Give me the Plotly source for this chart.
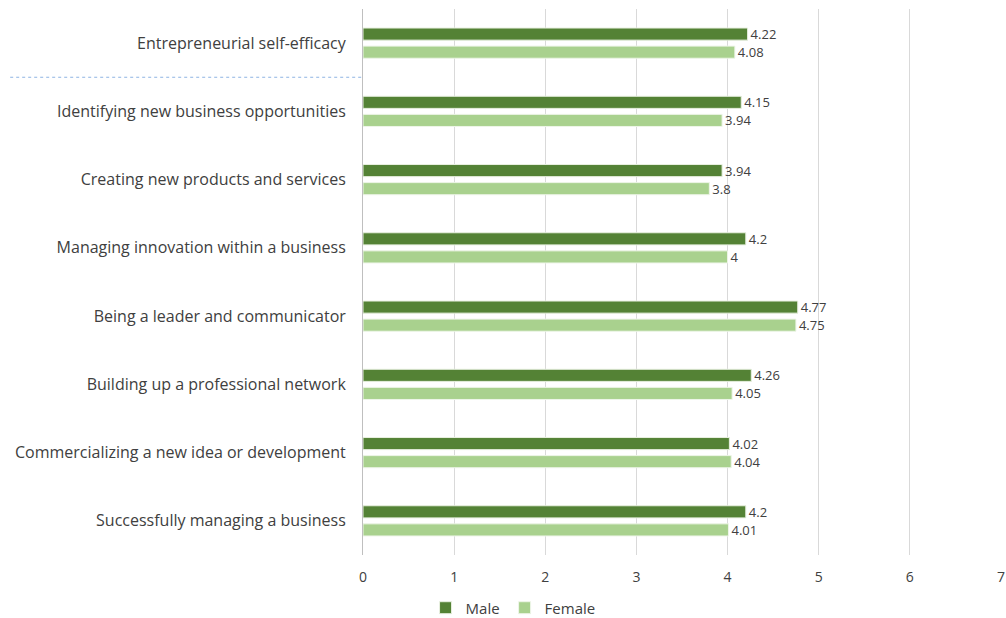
import plotly.graph_objects as go

categories = [
    "Entrepreneurial self-efficacy",
    "Identifying new business opportunities",
    "Creating new products and services",
    "Managing innovation within a business",
    "Being a leader and communicator",
    "Building up a professional network",
    "Commercializing a new idea or development",
    "Successfully managing a business",
]
male = [4.22, 4.15, 3.94, 4.2, 4.77, 4.26, 4.02, 4.2]
female = [4.08, 3.94, 3.8, 4, 4.75, 4.05, 4.04, 4.01]
x_ticks = [0, 1, 2, 3, 4, 5, 6, 7]

FONT = "Open Sans"
TXT = "#404040"

fig = go.Figure()
fig.add_trace(go.Bar(
    y=categories, x=male, name="Male", orientation="h",
    marker=dict(color="#548235", line=dict(color="#e8f0e0", width=1)),
    text=[str(v) for v in male], textposition="outside", cliponaxis=False,
    constraintext="none",
    textfont=dict(family=FONT, size=13, color=TXT),
))
fig.add_trace(go.Bar(
    y=categories, x=female, name="Female", orientation="h",
    marker=dict(color="#A9D18E", line=dict(color="#eef5e8", width=1)),
    text=[str(v) for v in female], textposition="outside", cliponaxis=False,
    constraintext="none",
    textfont=dict(family=FONT, size=13, color=TXT),
))

fig.add_shape(type="line", xref="paper", yref="y",
              x0=-0.553, x1=0, y0=0.5, y1=0.5,
              line=dict(color="#8fb4e3", width=1, dash="dot"))

fig.update_layout(
    width=1006, height=618,
    margin=dict(l=363, r=5, t=9, b=63, autoexpand=False),
    paper_bgcolor="white", plot_bgcolor="white",
    barmode="group", bargap=0.47, bargroupgap=0.33,
    font=dict(family=FONT, color=TXT),
    showlegend=True,
    legend=dict(orientation="h", xref="container", x=0.51, xanchor="center",
                yref="paper", y=-0.097, yanchor="middle",
                font=dict(family=FONT, size=15, color=TXT),
                traceorder="normal", itemwidth=30),
    xaxis=dict(range=[0, 7], tickvals=x_ticks, showgrid=True,
               gridcolor="#d9d9d9", gridwidth=1, zeroline=False,
               showline=False, tickfont=dict(family=FONT, size=14, color=TXT),
               ticks="", ticklabelstandoff=12, fixedrange=True,
               automargin=False),
    yaxis=dict(categoryorder="array", categoryarray=categories,
               autorange="reversed", showline=True, linecolor="#bfbfbf",
               linewidth=1, ticks="", ticklabelstandoff=13,
               tickfont=dict(family=FONT, size=16, color=TXT),
               automargin=False),
)

fig.write_html("out.html")
